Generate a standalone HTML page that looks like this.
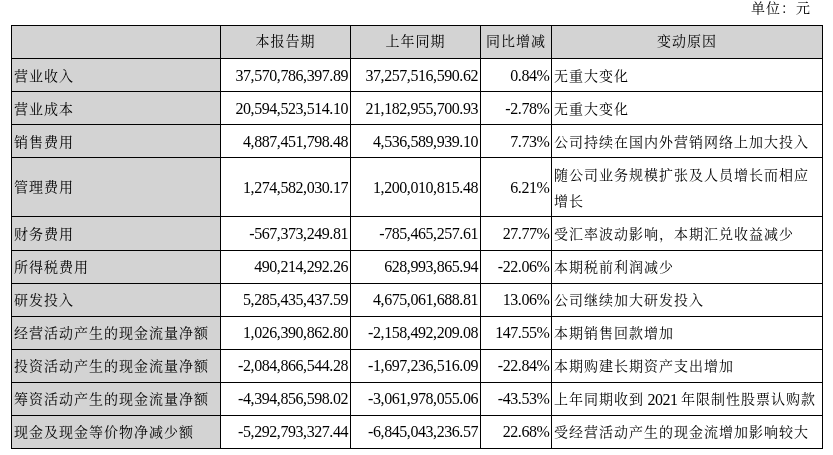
<!DOCTYPE html>
<html><head><meta charset="utf-8"><style>
html,body{margin:0;padding:0;background:#fff;}
body{width:833px;height:455px;position:relative;overflow:hidden;
 font-family:"Liberation Serif","Noto Serif CJK SC",serif;font-size:16px;letter-spacing:-0.5px;color:#000;}
.c{position:absolute;box-sizing:border-box;white-space:nowrap;display:flex;align-items:center;}
.g{background:#d3d3d3;}
.l{justify-content:flex-start;padding-left:2px;}
.r{justify-content:flex-end;padding-right:2px;}
.m{justify-content:center;}
.h{position:absolute;background:#000;height:1px;}
.v{position:absolute;background:#000;width:1px;}
.unit{position:absolute;left:751px;top:-1px;line-height:18px;}
.w{white-space:normal;line-height:25.5px;}
.k{font-family:"Liberation Serif","Noto Serif CJK SC",serif;font-size:14px;letter-spacing:1px;position:relative;}
.n{position:relative;}
.p{letter-spacing:-0.25px;}
.hy{letter-spacing:-0.33px;}
.pc{letter-spacing:-0.83px;}
</style></head><body>
<div class="unit"><span class="k">单位：元</span></div>

<div class="c m g" style="left:12px;top:26px;width:208px;height:32px"><div></div></div>
<div class="c m g" style="left:221px;top:26px;width:129px;height:32px"><div><span class="k" style="top:-2px">本报告期</span></div></div>
<div class="c m g" style="left:351px;top:26px;width:129px;height:32px"><div><span class="k" style="top:-2px">上年同期</span></div></div>
<div class="c m g" style="left:481px;top:26px;width:70px;height:32px"><div><span class="k" style="top:-2px">同比增减</span></div></div>
<div class="c m g" style="left:552px;top:26px;width:270px;height:32px"><div><span class="k" style="top:-2px">变动原因</span></div></div>
<div class="c l g" style="left:12px;top:59px;width:208px;height:32px"><div><span class="k">营业收入</span></div></div>
<div class="c r" style="left:221px;top:59px;width:129px;height:32px"><div><span class="n" style="top:1px">37<span class="p">,</span>570<span class="p">,</span>786<span class="p">,</span>397<span class="p">.</span>89</span></div></div>
<div class="c r" style="left:351px;top:59px;width:129px;height:32px"><div><span class="n" style="top:1px">37<span class="p">,</span>257<span class="p">,</span>516<span class="p">,</span>590<span class="p">.</span>62</span></div></div>
<div class="c r" style="left:481px;top:59px;width:70px;height:32px"><div><span class="n" style="top:1px">0<span class="p">.</span>84<span class="pc">%</span></span></div></div>
<div class="c l" style="left:552px;top:59px;width:270px;height:32px"><div><span class="k">无重大变化</span></div></div>
<div class="c l g" style="left:12px;top:92px;width:208px;height:32px"><div><span class="k">营业成本</span></div></div>
<div class="c r" style="left:221px;top:92px;width:129px;height:32px"><div><span class="n" style="top:1px">20<span class="p">,</span>594<span class="p">,</span>523<span class="p">,</span>514<span class="p">.</span>10</span></div></div>
<div class="c r" style="left:351px;top:92px;width:129px;height:32px"><div><span class="n" style="top:1px">21<span class="p">,</span>182<span class="p">,</span>955<span class="p">,</span>700<span class="p">.</span>93</span></div></div>
<div class="c r" style="left:481px;top:92px;width:70px;height:32px"><div><span class="n" style="top:1px"><span class="hy">-</span>2<span class="p">.</span>78<span class="pc">%</span></span></div></div>
<div class="c l" style="left:552px;top:92px;width:270px;height:32px"><div><span class="k">无重大变化</span></div></div>
<div class="c l g" style="left:12px;top:125px;width:208px;height:32px"><div><span class="k">销售费用</span></div></div>
<div class="c r" style="left:221px;top:125px;width:129px;height:32px"><div><span class="n" style="top:1px">4<span class="p">,</span>887<span class="p">,</span>451<span class="p">,</span>798<span class="p">.</span>48</span></div></div>
<div class="c r" style="left:351px;top:125px;width:129px;height:32px"><div><span class="n" style="top:1px">4<span class="p">,</span>536<span class="p">,</span>589<span class="p">,</span>939<span class="p">.</span>10</span></div></div>
<div class="c r" style="left:481px;top:125px;width:70px;height:32px"><div><span class="n" style="top:1px">7<span class="p">.</span>73<span class="pc">%</span></span></div></div>
<div class="c l" style="left:552px;top:125px;width:270px;height:32px"><div><span class="k">公司持续在国内外营销网络上加大投入</span></div></div>
<div class="c l g" style="left:12px;top:158px;width:208px;height:58px"><div><span class="k" style="top:-1px">管理费用</span></div></div>
<div class="c r" style="left:221px;top:158px;width:129px;height:58px"><div><span class="n" style="top:1px">1<span class="p">,</span>274<span class="p">,</span>582<span class="p">,</span>030<span class="p">.</span>17</span></div></div>
<div class="c r" style="left:351px;top:158px;width:129px;height:58px"><div><span class="n" style="top:1px">1<span class="p">,</span>200<span class="p">,</span>010<span class="p">,</span>815<span class="p">.</span>48</span></div></div>
<div class="c r" style="left:481px;top:158px;width:70px;height:58px"><div><span class="n" style="top:1px">6<span class="p">.</span>21<span class="pc">%</span></span></div></div>
<div class="c l" style="left:552px;top:158px;width:270px;height:58px"><div class="w"><span class="k" style="top:1px">随公司业务规模扩张及人员增长而相应</span><br><span class="k" style="top:1px">增长</span></div></div>
<div class="c l g" style="left:12px;top:217px;width:208px;height:33px"><div><span class="k" style="top:-1px">财务费用</span></div></div>
<div class="c r" style="left:221px;top:217px;width:129px;height:33px"><div><span class="n"><span class="hy">-</span>567<span class="p">,</span>373<span class="p">,</span>249<span class="p">.</span>81</span></div></div>
<div class="c r" style="left:351px;top:217px;width:129px;height:33px"><div><span class="n"><span class="hy">-</span>785<span class="p">,</span>465<span class="p">,</span>257<span class="p">.</span>61</span></div></div>
<div class="c r" style="left:481px;top:217px;width:70px;height:33px"><div><span class="n">27<span class="p">.</span>77<span class="pc">%</span></span></div></div>
<div class="c l" style="left:552px;top:217px;width:270px;height:33px"><div><span class="k" style="top:-1px">受汇率波动影响，本期汇兑收益减少</span></div></div>
<div class="c l g" style="left:12px;top:251px;width:208px;height:32px"><div><span class="k" style="top:-1px">所得税费用</span></div></div>
<div class="c r" style="left:221px;top:251px;width:129px;height:32px"><div><span class="n">490<span class="p">,</span>214<span class="p">,</span>292<span class="p">.</span>26</span></div></div>
<div class="c r" style="left:351px;top:251px;width:129px;height:32px"><div><span class="n">628<span class="p">,</span>993<span class="p">,</span>865<span class="p">.</span>94</span></div></div>
<div class="c r" style="left:481px;top:251px;width:70px;height:32px"><div><span class="n"><span class="hy">-</span>22<span class="p">.</span>06<span class="pc">%</span></span></div></div>
<div class="c l" style="left:552px;top:251px;width:270px;height:32px"><div><span class="k" style="top:-1px">本期税前利润减少</span></div></div>
<div class="c l g" style="left:12px;top:284px;width:208px;height:32px"><div><span class="k" style="top:-1px">研发投入</span></div></div>
<div class="c r" style="left:221px;top:284px;width:129px;height:32px"><div><span class="n">5<span class="p">,</span>285<span class="p">,</span>435<span class="p">,</span>437<span class="p">.</span>59</span></div></div>
<div class="c r" style="left:351px;top:284px;width:129px;height:32px"><div><span class="n">4<span class="p">,</span>675<span class="p">,</span>061<span class="p">,</span>688<span class="p">.</span>81</span></div></div>
<div class="c r" style="left:481px;top:284px;width:70px;height:32px"><div><span class="n">13<span class="p">.</span>06<span class="pc">%</span></span></div></div>
<div class="c l" style="left:552px;top:284px;width:270px;height:32px"><div><span class="k" style="top:-1px">公司继续加大研发投入</span></div></div>
<div class="c l g" style="left:12px;top:317px;width:208px;height:32px"><div><span class="k" style="top:-1px">经营活动产生的现金流量净额</span></div></div>
<div class="c r" style="left:221px;top:317px;width:129px;height:32px"><div><span class="n">1<span class="p">,</span>026<span class="p">,</span>390<span class="p">,</span>862<span class="p">.</span>80</span></div></div>
<div class="c r" style="left:351px;top:317px;width:129px;height:32px"><div><span class="n"><span class="hy">-</span>2<span class="p">,</span>158<span class="p">,</span>492<span class="p">,</span>209<span class="p">.</span>08</span></div></div>
<div class="c r" style="left:481px;top:317px;width:70px;height:32px"><div><span class="n">147<span class="p">.</span>55<span class="pc">%</span></span></div></div>
<div class="c l" style="left:552px;top:317px;width:270px;height:32px"><div><span class="k" style="top:-1px">本期销售回款增加</span></div></div>
<div class="c l g" style="left:12px;top:350px;width:208px;height:32px"><div><span class="k" style="top:-1px">投资活动产生的现金流量净额</span></div></div>
<div class="c r" style="left:221px;top:350px;width:129px;height:32px"><div><span class="n"><span class="hy">-</span>2<span class="p">,</span>084<span class="p">,</span>866<span class="p">,</span>544<span class="p">.</span>28</span></div></div>
<div class="c r" style="left:351px;top:350px;width:129px;height:32px"><div><span class="n"><span class="hy">-</span>1<span class="p">,</span>697<span class="p">,</span>236<span class="p">,</span>516<span class="p">.</span>09</span></div></div>
<div class="c r" style="left:481px;top:350px;width:70px;height:32px"><div><span class="n"><span class="hy">-</span>22<span class="p">.</span>84<span class="pc">%</span></span></div></div>
<div class="c l" style="left:552px;top:350px;width:270px;height:32px"><div><span class="k" style="top:-1px">本期购建长期资产支出增加</span></div></div>
<div class="c l g" style="left:12px;top:383px;width:208px;height:32px"><div><span class="k" style="top:-1px">筹资活动产生的现金流量净额</span></div></div>
<div class="c r" style="left:221px;top:383px;width:129px;height:32px"><div><span class="n"><span class="hy">-</span>4<span class="p">,</span>394<span class="p">,</span>856<span class="p">,</span>598<span class="p">.</span>02</span></div></div>
<div class="c r" style="left:351px;top:383px;width:129px;height:32px"><div><span class="n"><span class="hy">-</span>3<span class="p">,</span>061<span class="p">,</span>978<span class="p">,</span>055<span class="p">.</span>06</span></div></div>
<div class="c r" style="left:481px;top:383px;width:70px;height:32px"><div><span class="n"><span class="hy">-</span>43<span class="p">.</span>53<span class="pc">%</span></span></div></div>
<div class="c l" style="left:552px;top:383px;width:270px;height:32px"><div><span class="k" style="top:-1px">上年同期收到</span><span class="n"> 2021 </span><span class="k" style="top:-1px">年限制性股票认购款</span></div></div>
<div class="c l g" style="left:12px;top:416px;width:208px;height:32px"><div><span class="k" style="top:-1px">现金及现金等价物净减少额</span></div></div>
<div class="c r" style="left:221px;top:416px;width:129px;height:32px"><div><span class="n"><span class="hy">-</span>5<span class="p">,</span>292<span class="p">,</span>793<span class="p">,</span>327<span class="p">.</span>44</span></div></div>
<div class="c r" style="left:351px;top:416px;width:129px;height:32px"><div><span class="n"><span class="hy">-</span>6<span class="p">,</span>845<span class="p">,</span>043<span class="p">,</span>236<span class="p">.</span>57</span></div></div>
<div class="c r" style="left:481px;top:416px;width:70px;height:32px"><div><span class="n">22<span class="p">.</span>68<span class="pc">%</span></span></div></div>
<div class="c l" style="left:552px;top:416px;width:270px;height:32px"><div><span class="k" style="top:-1px">受经营活动产生的现金流增加影响较大</span></div></div>
<div class="h" style="left:11px;top:25px;width:812px"></div>
<div class="h" style="left:11px;top:58px;width:812px"></div>
<div class="h" style="left:11px;top:91px;width:812px"></div>
<div class="h" style="left:11px;top:124px;width:812px"></div>
<div class="h" style="left:11px;top:157px;width:812px"></div>
<div class="h" style="left:11px;top:216px;width:812px"></div>
<div class="h" style="left:11px;top:250px;width:812px"></div>
<div class="h" style="left:11px;top:283px;width:812px"></div>
<div class="h" style="left:11px;top:316px;width:812px"></div>
<div class="h" style="left:11px;top:349px;width:812px"></div>
<div class="h" style="left:11px;top:382px;width:812px"></div>
<div class="h" style="left:11px;top:415px;width:812px"></div>
<div class="h" style="left:11px;top:448px;width:812px"></div>
<div class="v" style="left:11px;top:25px;height:424px"></div>
<div class="v" style="left:220px;top:25px;height:424px"></div>
<div class="v" style="left:350px;top:25px;height:424px"></div>
<div class="v" style="left:480px;top:25px;height:424px"></div>
<div class="v" style="left:551px;top:25px;height:424px"></div>
<div class="v" style="left:822px;top:25px;height:424px"></div>
</body></html>
